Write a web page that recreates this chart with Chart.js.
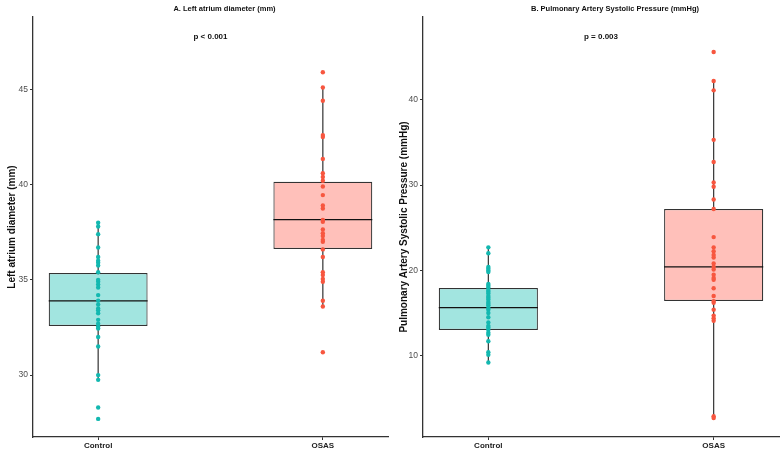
<!DOCTYPE html>
<html>
<head>
<meta charset="utf-8">
<script src="https://cdn.jsdelivr.net/npm/chart.js@4"></script>
<style>
  html, body { margin: 0; padding: 0; background: #fff; }
  #wrap { width: 784px; height: 455px; display: flex; }
  .cell { position: relative; width: 392px; height: 455px; }
</style>
</head>
<body>
<div id="wrap">
  <div class="cell"><canvas id="chartA"></canvas></div>
  <div class="cell"><canvas id="chartB"></canvas></div>
</div>
<script>
const groups = ["Control", "OSAS"];

// A. Left atrium diameter (mm)
const laControl = [38.0, 37.8, 37.4, 36.7, 36.2, 36.0, 35.9, 35.75, 35.4, 35.0, 34.9, 34.75, 34.6, 34.2,
  33.9, 33.7, 33.5, 33.4, 33.25, 32.9, 32.7, 32.55, 32.45, 32.0, 31.5, 30.0, 29.75, 28.3, 27.7];
const laOsas = [45.9, 45.1, 44.4, 42.6, 42.5, 41.35, 40.6, 40.4, 40.2, 39.9, 39.45, 38.9, 38.75, 38.15,
  38.05, 37.65, 37.45, 37.3, 37.1, 37.0, 36.6, 36.2, 35.4, 35.25, 35.05, 34.9, 33.9, 33.6, 31.2];
// [lower whisker, q1, median, q3, upper whisker]
const laBoxControl = [29.75, 32.58, 33.9, 35.36, 38.0];
const laBoxOsas = [33.6, 36.62, 38.16, 40.15, 45.1];

// B. Pulmonary artery systolic pressure (mmHg)
const papControl = [22.7, 22.0, 20.4, 20.2, 20.0, 19.8, 18.4, 18.2, 18.0, 17.7, 17.5, 17.3, 17.0, 16.8,
  16.6, 16.3, 16.1, 15.9, 15.6, 15.4, 15.0, 14.5, 13.9, 13.5, 13.3, 13.05, 12.7, 12.45, 11.7, 10.4, 10.1, 9.2];
const papOsas = [45.6, 42.2, 41.1, 35.3, 32.7, 30.3, 29.8, 28.3, 27.2, 23.9, 22.7, 22.25, 21.8, 21.5,
  20.8, 20.4, 20.1, 19.5, 19.1, 18.9, 17.9, 17.0, 16.4, 16.2, 15.4, 14.7, 14.4, 14.1, 2.9, 2.7];
const papBoxControl = [9.2, 13.01, 15.63, 17.93, 22.7];
const papBoxOsas = [2.7, 16.41, 20.4, 27.2, 42.2];

const yTicksA = [30, 35, 40, 45];
const yTicksB = [10, 20, 30, 40];

const fillColors = ["#a2e5e0", "#ffc0ba"];
const pointColors = ["#13b8b0", "#f7563f"];
const BOX_HALF = 0.22;

const panelText = {
  id: "panelText",
  afterDraw(chart, args, opts) {
    const ctx = chart.ctx;
    const a = chart.chartArea;
    const cx = (a.left + a.right) / 2;
    ctx.save();
    ctx.fillStyle = "#111";
    ctx.textAlign = "center";
    ctx.textBaseline = "middle";
    ctx.font = "bold 7.5px 'Liberation Sans', Arial, sans-serif";
    ctx.fillText(opts.title, cx + 14, 9);
    ctx.font = "bold 8px 'Liberation Sans', Arial, sans-serif";
    ctx.fillText(opts.pText, cx, 37);
    ctx.restore();
  }
};

function makePanel(elemId, boxes, values, ticks, yMin, yMax, yTitle, title, pText, axisWidth, padRight) {
  const datasets = [];

  // dots
  values.forEach((vals, i) => {
    datasets.push({
      type: "scatter",
      data: vals.map(v => ({ x: i + 1, y: v })),
      backgroundColor: pointColors[i],
      borderWidth: 0,
      pointRadius: 2.2,
      order: 0
    });
  });

  // medians
  boxes.forEach((b, i) => {
    datasets.push({
      type: "line",
      data: [{ x: i + 1 - BOX_HALF, y: b[2] }, { x: i + 1 + BOX_HALF, y: b[2] }],
      borderColor: "#111",
      borderWidth: 1.3,
      pointRadius: 0,
      order: 1
    });
  });

  // boxes
  datasets.push({
    type: "bar",
    data: boxes.map((b, i) => ({ x: i + 1, y: [b[1], b[3]] })),
    backgroundColor: fillColors,
    borderColor: "#333",
    borderWidth: 1.2,
    borderSkipped: false,
    categoryPercentage: 1,
    barPercentage: BOX_HALF * 2,
    grouped: false,
    order: 2
  });

  // whiskers
  boxes.forEach((b, i) => {
    datasets.push({
      type: "line",
      data: [{ x: i + 1, y: b[0] }, { x: i + 1, y: b[4] }],
      borderColor: "#333",
      borderWidth: 1.2,
      pointRadius: 0,
      order: 3
    });
  });

  new Chart(document.getElementById(elemId), {
    type: "bar",
    data: { datasets: datasets },
    options: {
      responsive: true,
      maintainAspectRatio: false,
      animation: false,
      layout: { padding: { left: 0, right: padRight, top: 17, bottom: 0 } },
      plugins: {
        legend: { display: false },
        tooltip: { enabled: false },
        panelText: { title: title, pText: pText }
      },
      scales: {
        x: {
          type: "linear",
          offset: false,
          min: 0.71,
          max: 2.29,
          afterBuildTicks: s => { s.ticks = groups.map((g, i) => ({ value: i + 1 })); },
          afterFit: s => { s.height = 18; },
          ticks: {
            callback: v => groups[v - 1],
            color: "#222",
            font: { family: "'Liberation Sans', Arial, sans-serif", size: 8, weight: "bold" },
            padding: 1,
            maxRotation: 0
          },
          grid: { offset: false, drawOnChartArea: false, tickLength: 3, tickColor: "#333" },
          border: { color: "#333", width: 1.3 }
        },
        y: {
          type: "linear",
          min: yMin,
          max: yMax,
          afterBuildTicks: s => { s.ticks = ticks.map(v => ({ value: v })); },
          afterFit: s => { s.width = axisWidth; },
          ticks: {
            color: "#4d4d4d",
            font: { family: "'Liberation Sans', Arial, sans-serif", size: 8.5 },
            padding: 2
          },
          grid: { drawOnChartArea: false, tickLength: 3, tickColor: "#333" },
          border: { color: "#333", width: 1.3 },
          title: {
            display: true,
            text: yTitle,
            color: "#111",
            font: { family: "'Liberation Sans', Arial, sans-serif", size: 10, weight: "bold" },
            padding: { top: 6, bottom: 0 }
          }
        }
      }
    },
    plugins: [panelText]
  });
}

makePanel("chartA", [laBoxControl, laBoxOsas], [laControl, laOsas], yTicksA, 26.75, 48.8,
  "Left atrium diameter (mm)", "A. Left atrium diameter (mm)", "p < 0.001", 33, 4);
makePanel("chartB", [papBoxControl, papBoxOsas], [papControl, papOsas], yTicksB, 0.47, 49.7,
  "Pulmonary Artery Systolic Pressure (mmHg)", "B. Pulmonary Artery Systolic Pressure (mmHg)", "p = 0.003", 31, 5);
</script>
</body>
</html>
